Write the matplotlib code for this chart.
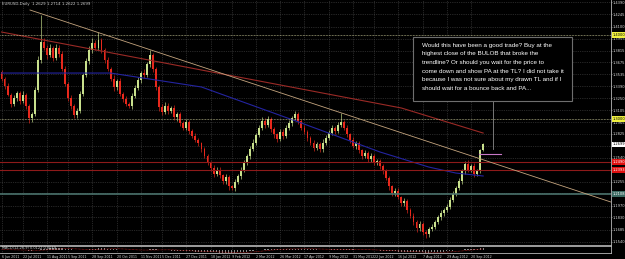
import numpy as np
import pandas as pd
import matplotlib
matplotlib.use("Agg")
import matplotlib.pyplot as plt
from matplotlib.patches import Rectangle
from matplotlib.transforms import blended_transform_factory

# ---------------- data ----------------
symbol_title = "EURUSD,Daily  1.2629 1.2714 1.2622 1.2699"
first_open = 1.3560
closes = [
    1.3480, 1.3390, 1.3290, 1.3180, 1.3250, 1.3310, 1.3220, 1.3290, 1.3150, 1.3010,
    1.3060, 1.3350, 1.3700, 1.3920, 1.3850, 1.3760, 1.3840, 1.3730, 1.3850, 1.3780,
    1.3600, 1.3420, 1.3250, 1.3150, 1.3050, 1.3100, 1.3300, 1.3520, 1.3690, 1.3820,
    1.3900, 1.3850, 1.3940, 1.3820, 1.3700, 1.3600, 1.3480, 1.3380, 1.3450, 1.3300,
    1.3240, 1.3180, 1.3150, 1.3280, 1.3370, 1.3460, 1.3550, 1.3520, 1.3650, 1.3760,
    1.3600, 1.3380, 1.3140, 1.3080, 1.3160, 1.3100, 1.3130, 1.3020, 1.3060, 1.2950,
    1.2900, 1.2960, 1.2860, 1.2800, 1.2750, 1.2710, 1.2640, 1.2560, 1.2480, 1.2420,
    1.2350, 1.2400, 1.2330, 1.2260, 1.2310, 1.2200, 1.2180, 1.2250, 1.2320, 1.2400,
    1.2480, 1.2560, 1.2650, 1.2720, 1.2810, 1.2900, 1.2980, 1.2930, 1.3000, 1.2880,
    1.2820, 1.2760, 1.2850, 1.2800, 1.2890, 1.2950, 1.3010, 1.3060, 1.2980, 1.2900,
    1.2850, 1.2780, 1.2720, 1.2660, 1.2700, 1.2640, 1.2720, 1.2780, 1.2830, 1.2890,
    1.2860, 1.2930, 1.2965, 1.2900, 1.2820, 1.2750, 1.2680, 1.2710, 1.2630, 1.2560,
    1.2600, 1.2520, 1.2560, 1.2480, 1.2500, 1.2440, 1.2380, 1.2300, 1.2200, 1.2120,
    1.2150, 1.2070, 1.2000, 1.2030, 1.1920, 1.1850, 1.1780, 1.1700, 1.1750, 1.1660,
    1.1630, 1.1690, 1.1720, 1.1780, 1.1830, 1.1880, 1.1920, 1.1960, 1.2040, 1.2110,
    1.2180, 1.2260, 1.2380, 1.2470, 1.2400, 1.2440, 1.2350, 1.2380, 1.2629, 1.2699,
]
wick_up_pips = [
    30, 25, 40, 20, 35, 30, 25, 40, 20, 30, 25, 30, 45, 318, 40, 30, 50, 35, 40, 30,
    25, 30, 20, 35, 25, 30, 40, 30, 35, 45, 60, 40, 100, 30, 25, 35, 20, 40, 30, 35,
    25, 30, 20, 35, 30, 40, 25, 45, 30, 62, 30, 25, 20, 35, 40, 30, 25, 35, 30, 20,
    30, 40, 25, 20, 30, 25, 20, 30, 25, 20, 30, 35, 25, 20, 40, 25, 20, 35, 30, 25,
    35, 30, 25, 40, 30, 35, 45, 30, 40, 25, 30, 20, 35, 30, 40, 35, 30, 40, 30, 25,
    30, 25, 20, 35, 30, 25, 40, 30, 35, 40, 30, 35, 107, 30, 25, 20, 35, 25, 30, 20,
    30, 25, 35, 20, 30, 25, 20, 30, 25, 20, 35, 25, 20, 30, 25, 20, 30, 25, 35, 20,
    25, 30, 35, 25, 30, 35, 25, 30, 35, 30, 25, 35, 30, 30, 40, 30, 35, 25, 20, 15,
]
wick_dn_pips = [
    25, 30, 20, 35, 25, 30, 40, 25, 30, 57, 40, 25, 30, 35, 30, 40, 25, 35, 30, 40,
    30, 25, 35, 30, 40, 35, 25, 30, 25, 30, 35, 30, 25, 30, 35, 25, 30, 40, 30, 25,
    35, 30, 18, 25, 30, 25, 35, 30, 25, 30, 35, 30, 40, 30, 25, 35, 30, 25, 40, 30,
    25, 30, 35, 30, 25, 30, 35, 25, 30, 40, 35, 30, 25, 35, 30, 40, 24, 30, 25, 30,
    25, 30, 35, 25, 30, 25, 30, 35, 25, 30, 40, 30, 25, 35, 30, 25, 30, 25, 35, 30,
    25, 35, 30, 40, 25, 35, 30, 25, 30, 25, 35, 30, 25, 30, 35, 30, 25, 35, 30, 40,
    25, 35, 30, 25, 30, 35, 30, 25, 40, 30, 35, 25, 30, 35, 40, 30, 35, 40, 30, 35,
    45, 30, 25, 30, 25, 30, 35, 25, 30, 25, 30, 25, 30, 35, 25, 30, 40, 25, 20, 7,
]

# moving averages (values read at a few bars)
ma_slow_bars = [0, 33, 66, 99, 132, 159]
ma_slow_vals = [1.4036, 1.3810, 1.3584, 1.3358, 1.3132, 1.2834]
ma_fast_bars = [0, 36, 66, 99, 125, 141, 150, 159]
ma_fast_vals = [1.3548, 1.3548, 1.3382, 1.2953, 1.2608, 1.2430, 1.2358, 1.2323]

# drawn objects
trend_bars = [9.4, 201.2]
trend_prices = [1.4298, 1.2013]
yellow_levels = [1.4000, 1.3000]
red_levels = [1.2490, 1.2393]
teal_level = 1.2108
purple_level = 1.2584
purple_bars = [157.5, 164.8]
note_anchor = (162.2, 1.2650)

date_bars = [0, 7, 15, 22, 30, 38, 46, 53, 61, 69, 76, 84, 92, 100, 108, 116,
             123, 131, 139, 147, 155]
date_labels = ["6 Jun 2011", "22 Jul 2011", "11 Aug 2011", "5 Sep 2011",
               "28 Sep 2011", "20 Oct 2011", "11 Nov 2011", "5 Dec 2011",
               "27 Dec 2011", "18 Jan 2012", "9 Feb 2012", "2 Mar 2012",
               "26 Mar 2012", "17 Apr 2012", "9 May 2012", "31 May 2012",
               "22 Jun 2012", "16 Jul 2012", "7 Aug 2012", "29 Aug 2012",
               "20 Sep 2012"]
price_ticks = [1.4390, 1.4245, 1.4100, 1.3955, 1.3815, 1.3675, 1.3535, 1.3390,
               1.3250, 1.3105, 1.2965, 1.2825, 1.2685, 1.2540, 1.2395, 1.2255,
               1.2115, 1.1970, 1.1830, 1.1685, 1.1540]
note_lines = [
    "Would this have been a good trade? Buy at the",
    "highest close of the BULOB that broke the",
    "trendline? Or should you wait for the price to",
    "come down and show PA at the TL? I did not take it",
    "because I was not sure about my drawn TL and if I",
    "should wait for a bounce back and PA...",
]

# ---------------- figure ----------------
W, H = 625, 259
SMALL = ["Liberation Sans Narrow", "DejaVu Sans"]
fig = plt.figure(figsize=(W / 100, H / 100), dpi=100, facecolor="black")


def fx(px):
    return px / W


def fy(py):
    return 1 - py / H


ax = fig.add_axes([0, fy(245), fx(611), 245 / H])
sub = fig.add_axes([0, fy(253), fx(611), 7 / H])
for a in (ax, sub):
    a.set_facecolor("black")
    a.set_xlim(-0.5, 201.2)

ax.set_ylim(1.1502, 1.4417)

# tags that cover a tick label in the terminal
tag_prices = yellow_levels + red_levels + [teal_level, closes[-1]]


def covered(p):
    return any(abs(p - t) < 0.0022 for t in tag_prices)


grid_kw = dict(color="#4c4c4c", lw=0.5, linestyle=(0, (1, 1.6)))
ax.set_xticks(date_bars)
ax.set_yticks(price_ticks)
ax.set_yticklabels(["" if covered(p) else f"{p:.4f}" for p in price_ticks],
                   family=SMALL)
ax.grid(True, **grid_kw)
ax.set_axisbelow(True)
ax.yaxis.tick_right()
ax.tick_params(axis="y", labelsize=2.6, labelcolor="#d8d8d8", color="#c0c0c0",
               length=1.0, width=0.4, pad=0.5)
ax.tick_params(axis="x", labelbottom=False, length=0)
for s in ("top", "left"):
    ax.spines[s].set_visible(False)
for s in ("right", "bottom"):
    ax.spines[s].set_color("#b8b8b8")
    ax.spines[s].set_linewidth(0.6)

# candles
idx = np.arange(len(closes))
c = np.array(closes)
o = np.array([first_open] + closes[:-1])
hi = np.maximum(o, c) + np.array(wick_up_pips) * 1e-4
lo = np.minimum(o, c) - np.array(wick_dn_pips) * 1e-4
bull = c >= o
cols = np.where(bull, "#c8e08c", "#e8281c")
ax.vlines(idx, lo, hi, colors=cols, lw=0.45, zorder=2)
body_h = np.maximum(np.abs(c - o), 0.0004)
ax.bar(idx, body_h, bottom=np.minimum(o, c), width=0.62, color=cols, lw=0, zorder=2)

# moving averages
ax.plot(ma_slow_bars, ma_slow_vals, color="#9a2a26", lw=0.8, zorder=3)
ax.plot(ma_fast_bars, ma_fast_vals, color="#2424a0", lw=0.8, zorder=3)

# horizontal levels
for lv in yellow_levels:
    ax.axhline(lv, color="#e0e0a8", lw=0.5, linestyle=(0, (1, 1.2)), zorder=3)
for lv in red_levels:
    ax.axhline(lv, color="#8e1a1a", lw=0.8, zorder=3)
ax.axhline(teal_level, color="#4a726c", lw=1.2, zorder=3)
ax.plot(purple_bars, [purple_level] * 2, color="#c878c8", lw=0.8, zorder=4)

# trendline
ax.plot(trend_bars, trend_prices, color="#c4a47e", lw=0.6, zorder=4)

# right-axis tags
trans = blended_transform_factory(ax.transAxes, ax.transData)


def tag(price, fc, tc):
    ax.text(1.0025, price, f"{price:.4f}", transform=trans, fontsize=2.6,
            family=SMALL, color=tc, ha="left", va="center", clip_on=False,
            zorder=10, bbox=dict(boxstyle="square,pad=0.2", fc=fc, ec="none"))


for lv in yellow_levels:
    tag(lv, "#f0f040", "black")
for lv in red_levels:
    tag(lv, "#e01010", "white")
tag(teal_level, "#3c6a62", "white")
tag(closes[-1], "white", "black")

# annotation box
box = Rectangle((fx(413), fy(101)), fx(572) - fx(413), fy(37) - fy(101),
                transform=fig.transFigure, fc="black", ec="#6e6e6e", lw=0.8,
                zorder=8, clip_on=False)
ax.add_patch(box)
ax.plot([note_anchor[0]] * 2, [1.3215, note_anchor[1]], color="#8a8a8a",
        lw=0.6, zorder=7)
line_y = [45, 54, 62.7, 71.7, 80, 88.3]
for t, py in zip(note_lines, line_y):
    ax.text(fx(422), fy(py), t, transform=fig.transFigure, color="white",
            fontsize=4.5, family=["Liberation Sans Narrow", "Liberation Sans"],
            ha="left", va="center", zorder=9, clip_on=False)

# title
fig.text(fx(2), fy(3.5), symbol_title, color="#cfcfcf", fontsize=2.8,
         family=SMALL, ha="left", va="center")

# MACD sub panel
s = pd.Series(closes)
macd = s.ewm(span=12, adjust=False).mean() - s.ewm(span=26, adjust=False).mean()
signal = macd.rolling(9, min_periods=1).mean()
m = float(np.abs(macd).max()) * 1.1
sub.set_ylim(-m, m)
sub.bar(idx, macd, width=0.4, color="#8a8a8a", lw=0)
sub.plot(idx, signal, color="#c02020", lw=0.5, linestyle=(0, (1, 1)))
sub.set_xticks(date_bars)
sub.set_xticklabels(date_labels, family=SMALL)
for lab in sub.get_xticklabels():
    lab.set_ha("left")
sub.tick_params(axis="x", labelsize=2.35, labelcolor="#d8d8d8", length=0, pad=1.2)
sub.set_yticks([])
sub.grid(True, axis="x", **grid_kw)
sub.set_axisbelow(True)
sub.spines["left"].set_visible(False)
for sname in ("top", "bottom", "right"):
    sub.spines[sname].set_color("#b8b8b8")
    sub.spines[sname].set_linewidth(0.6)
sub.text(0.003, 0.75, f"MACD(12,26,9) {macd.iloc[-1]:.4f} {signal.iloc[-1]:.4f}",
         transform=sub.transAxes, fontsize=2.5, family=SMALL, color="#cfcfcf",
         ha="left", va="center")

fig.savefig("out.png", dpi=100, facecolor="black")
